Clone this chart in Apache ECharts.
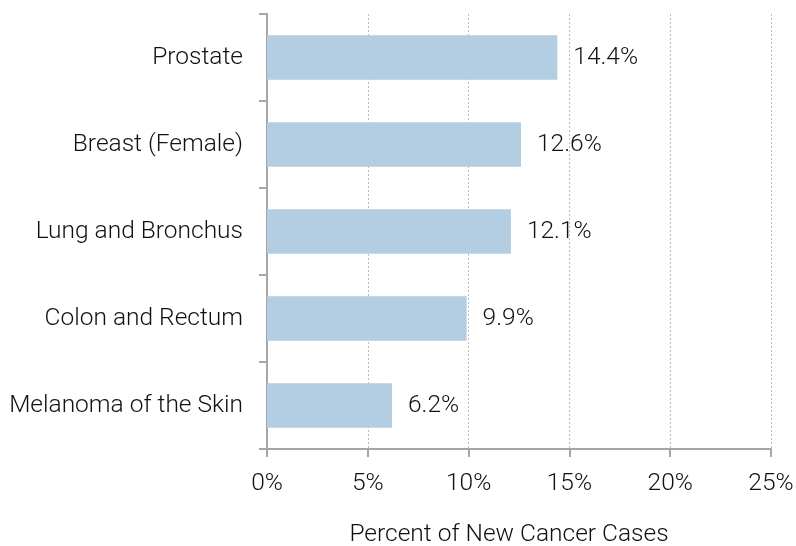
<!DOCTYPE html>
<html><head><meta charset="utf-8">
<script src="https://cdn.jsdelivr.net/npm/echarts@6/dist/echarts.min.js"></script>
<style>html,body{margin:0;padding:0;background:#fff}#c{width:796px;height:546px}</style>
</head><body><div id="c"></div>
<script>
const categories = ["Melanoma of the Skin", "Colon and Rectum", "Lung and Bronchus", "Breast (Female)", "Prostate"];
const values = [6.2, 9.9, 12.1, 12.6, 14.4];
const xTicks = [0, 5, 10, 15, 20, 25];
const axisTitle = "Percent of New Cancer Cases";

const font = "Roboto, 'Liberation Sans', sans-serif";
const fs = 24.5;
const txt = '#111';
const chart = echarts.init(document.getElementById('c'), null, {renderer: 'canvas'});
chart.setOption({
  animation: false,
  grid: {left: 267, right: 25, top: 14, bottom: 97, containLabel: false, outerBoundsMode: 'none'},
  xAxis: {
    type: 'value', min: xTicks[0], max: xTicks[xTicks.length - 1], interval: 5,
    axisLine: {show: true, lineStyle: {color: '#a6a6a6', width: 2}},
    axisTick: {show: true, length: 8, lineStyle: {color: '#a6a6a6', width: 2}},
    splitLine: {show: true, lineStyle: {color: '#bdbdbd', type: [2, 2], width: 1}},
    axisLabel: {formatter: '{value}%', fontSize: fs, color: txt, fontFamily: font, fontWeight: 300, margin: 22},
    name: axisTitle, nameLocation: 'middle', nameGap: 73,
    nameTextStyle: {fontSize: fs, color: txt, fontFamily: font, fontWeight: 300, padding: [0, 20, 0, 0]}
  },
  yAxis: {
    type: 'category', data: categories,
    axisLine: {show: true, lineStyle: {color: '#a6a6a6', width: 2}},
    axisTick: {show: true, length: 8, lineStyle: {color: '#a6a6a6', width: 2}},
    axisLabel: {fontSize: fs, color: txt, fontFamily: font, fontWeight: 300, margin: 24}
  },
  series: [{
    type: 'bar', data: values, barWidth: '51%',
    itemStyle: {color: '#b3cde2'},
    label: {show: true, position: 'right', distance: 16, formatter: p => p.value.toFixed(1) + '%',
      fontSize: fs, color: txt, fontFamily: font, fontWeight: 300}
  }]
});
</script></body></html>
